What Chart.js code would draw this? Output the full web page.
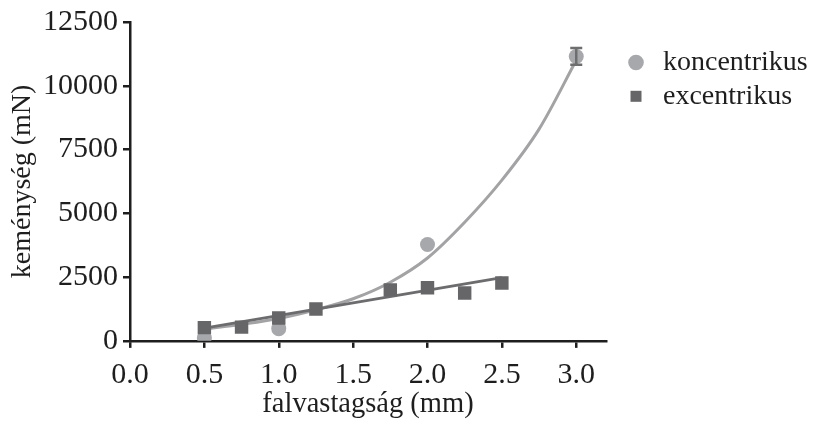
<!DOCTYPE html>
<html>
<head>
<meta charset="utf-8">
<style>
  html, body { margin: 0; padding: 0; background: #fff; }
  #wrap { width: 822px; height: 424px; }
</style>
<script src="https://cdn.jsdelivr.net/npm/chart.js"></script>
</head>
<body>
<div id="wrap"><canvas id="hardness"></canvas></div>
<script>
    // measured points
    const koncX = [0.5, 1.0, 2.0, 3.0];
    const koncY = [120, 480, 3780, 11150];
    const koncErr = [0, 0, 0, 330];

    const excX = [0.5, 0.75, 1.0, 1.25, 1.75, 2.0, 2.25, 2.5];
    const excY = [520, 540, 900, 1250, 2000, 2080, 1880, 2270];

    // fitted curves
    const koncFitX = [0.5, 0.75, 1.0, 1.25, 1.5, 1.75, 2.0, 2.25, 2.5, 2.75, 3.0];
    const koncFitY = [460, 650, 880, 1220, 1650, 2300, 3250, 4650, 6300, 8300, 11000];
    const excFitX = [0.5, 2.5];
    const excFitY = [500, 2480];

    const xTicks = [0.0, 0.5, 1.0, 1.5, 2.0, 2.5, 3.0];
    const yTicks = [0, 2500, 5000, 7500, 10000, 12500];

    const ink = '#1e1e1e';
    const serif = "'Liberation Serif', 'Times New Roman', serif";
    const toPts = (xs, ys) => xs.map((v, i) => ({ x: v, y: ys[i] }));

    // vertical error bars for the koncentrikus points
    const errorBars = {
        id: 'errorBars',
        afterDatasetsDraw(chart) {
            const { ctx, scales: { x, y } } = chart;
            ctx.save();
            ctx.strokeStyle = '#6e6e6e';
            ctx.lineWidth = 2.5;
            koncX.forEach((v, i) => {
                const e = koncErr[i];
                if (!e) return;
                const px = x.getPixelForValue(v);
                const top = y.getPixelForValue(koncY[i] + e);
                const bot = y.getPixelForValue(koncY[i] - e);
                ctx.beginPath();
                ctx.moveTo(px, top); ctx.lineTo(px, bot);
                ctx.moveTo(px - 6, top); ctx.lineTo(px + 6, top);
                ctx.moveTo(px - 6, bot); ctx.lineTo(px + 6, bot);
                ctx.stroke();
            });
            ctx.restore();
        }
    };

    Chart.defaults.font.family = serif;
    Chart.defaults.color = ink;

    new Chart(document.getElementById('hardness'), {
        type: 'scatter',
        data: {
            datasets: [{
                label: 'koncentrikus',
                data: toPts(koncX, koncY),
                pointStyle: 'circle',
                pointRadius: 7.5,
                backgroundColor: '#a7a8ab',
                borderColor: '#a7a8ab',
                borderWidth: 0,
                order: 2
            }, {
                label: 'excentrikus',
                data: toPts(excX, excY),
                pointStyle: 'rect',
                pointRadius: 9.5,
                backgroundColor: '#666668',
                borderColor: '#666668',
                borderWidth: 0,
                order: 1
            }, {
                label: 'fit-konc',
                data: toPts(koncFitX, koncFitY),
                showLine: true,
                pointRadius: 0,
                borderColor: '#a3a3a5',
                borderWidth: 3,
                cubicInterpolationMode: 'monotone',
                order: 4
            }, {
                label: 'fit-exc',
                data: toPts(excFitX, excFitY),
                showLine: true,
                pointRadius: 0,
                borderColor: '#6c6c6e',
                borderWidth: 3,
                order: 3
            }]
        },
        options: {
            responsive: true,
            maintainAspectRatio: false,
            animation: false,
            layout: { padding: { top: 22, right: 14, bottom: 16, left: 0 } },
            plugins: {
                tooltip: { enabled: false },
                legend: {
                    position: 'right',
                    align: 'start',
                    title: { display: true, text: '', font: { size: 9.5, lineHeight: 1 }, padding: 0 },
                    labels: {
                        usePointStyle: true,
                        boxWidth: 26,
                        boxHeight: 11,
                        padding: 17,
                        color: ink,
                        font: { size: 28, lineHeight: 0.6 },
                        sort: (a, b) => a.datasetIndex - b.datasetIndex,
                        generateLabels: chart => Chart.defaults.plugins.legend.labels.generateLabels(chart)
                            .filter(l => l.datasetIndex < 2)
                            .map(l => Object.assign(l, { text: [l.text] }))
                    }
                }
            },
            scales: {
                x: {
                    type: 'linear',
                    min: 0,
                    max: 3.2,
                    afterBuildTicks: axis => { axis.ticks = xTicks.map(v => ({ value: v })); },
                    grid: { display: true, drawOnChartArea: false, drawTicks: true, tickLength: 7, color: ink, lineWidth: 2.5 },
                    border: { display: true, color: ink, width: 2.5 },
                    ticks: {
                        color: ink,
                        padding: 12,
                        maxRotation: 0,
                        font: { size: 30, lineHeight: 1 },
                        callback: v => Number(v).toFixed(1)
                    },
                    title: { display: true, text: 'falvastagság (mm)', color: ink, font: { size: 28.5, lineHeight: 0.215 }, padding: 0 }
                },
                y: {
                    type: 'linear',
                    min: 0,
                    max: 12500,
                    afterBuildTicks: axis => { axis.ticks = yTicks.map(v => ({ value: v })); },
                    grid: { display: true, drawOnChartArea: false, drawTicks: true, tickLength: 7, color: ink, lineWidth: 2.5 },
                    border: { display: true, color: ink, width: 2.5 },
                    ticks: {
                        color: ink,
                        padding: 5,
                        font: { size: 30, lineHeight: 1 },
                        callback: v => String(v)
                    },
                    title: { display: true, text: 'keménység (mN)', color: ink, font: { size: 28, lineHeight: 1 }, padding: { top: 9, bottom: 1 } }
                }
            }
        },
        plugins: [errorBars]
    });
</script>
</body>
</html>
